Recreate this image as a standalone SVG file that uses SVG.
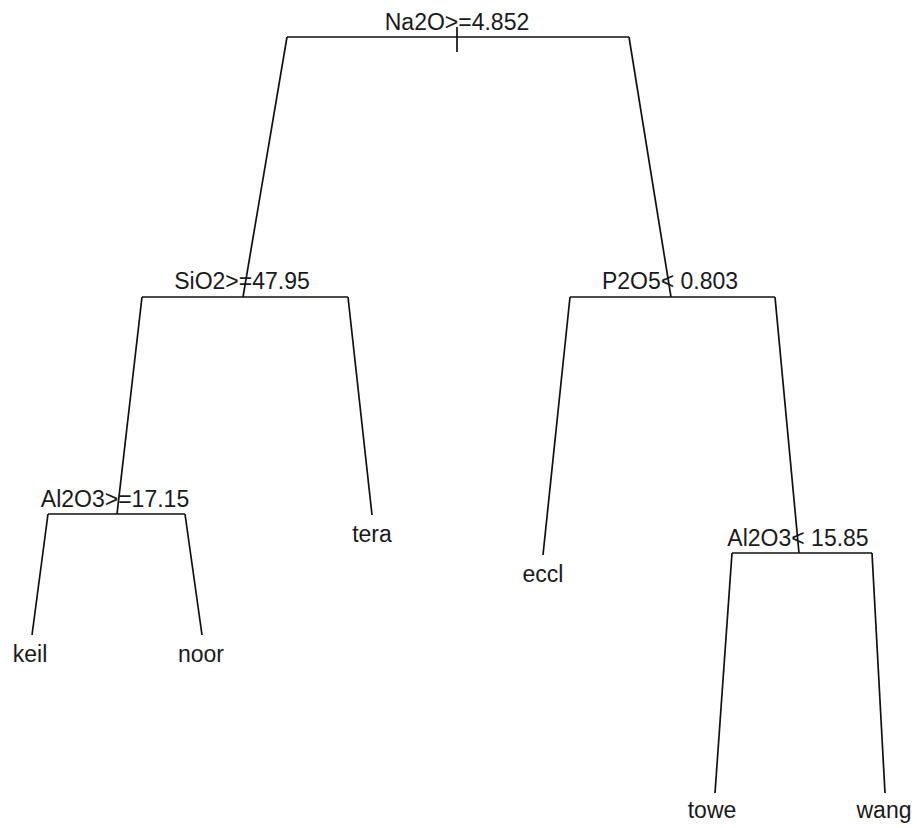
<svg xmlns="http://www.w3.org/2000/svg" width="917" height="828" viewBox="0 0 917 828">
<style>
text{font-family:"Liberation Sans",Arial,sans-serif;font-size:23px;fill:#1a1a1a;text-anchor:middle}
line,polyline{stroke:#111;stroke-width:1.7;fill:none}
</style>
<rect width="917" height="828" fill="#fff"/>
<g id="connectors">
<line x1="457" y1="27" x2="457" y2="52"/>
<line x1="287" y1="37" x2="243" y2="297"/>
<line x1="629" y1="37" x2="671" y2="297"/>
<line x1="142" y1="297" x2="117" y2="514"/>
<line x1="348" y1="297" x2="372" y2="515"/>
<line x1="570" y1="297" x2="543" y2="555"/>
<line x1="775" y1="297" x2="799" y2="553"/>
<line x1="48" y1="514" x2="32" y2="635"/>
<line x1="185" y1="514" x2="202" y2="635"/>
<line x1="732" y1="553" x2="715" y2="793"/>
<line x1="872" y1="553" x2="885" y2="793"/>
</g>
<g id="n-root"><line x1="287" y1="37" x2="629" y2="37"/><text x="457" y="30">Na2O&gt;=4.852</text></g>
<g id="n-sio2"><line x1="142" y1="297" x2="348" y2="297"/><text x="242" y="289">SiO2&gt;=47.95</text></g>
<g id="n-p2o5"><line x1="570" y1="297" x2="775" y2="297"/><text x="670" y="289">P2O5&lt; 0.803</text></g>
<g id="n-al2o3a"><line x1="48" y1="514" x2="185" y2="514"/><text x="115" y="507">Al2O3&gt;=17.15</text></g>
<g id="n-al2o3b"><line x1="732" y1="553" x2="872" y2="553"/><text x="798" y="546">Al2O3&lt; 15.85</text></g>
<g id="n-keil"><text x="30" y="662">keil</text></g>
<g id="n-noor"><text x="201" y="662">noor</text></g>
<g id="n-tera"><text x="372" y="542">tera</text></g>
<g id="n-eccl"><text x="543" y="582">eccl</text></g>
<g id="n-towe"><text x="712" y="818">towe</text></g>
<g id="n-wang"><text x="884" y="818">wang</text></g>
</svg>
